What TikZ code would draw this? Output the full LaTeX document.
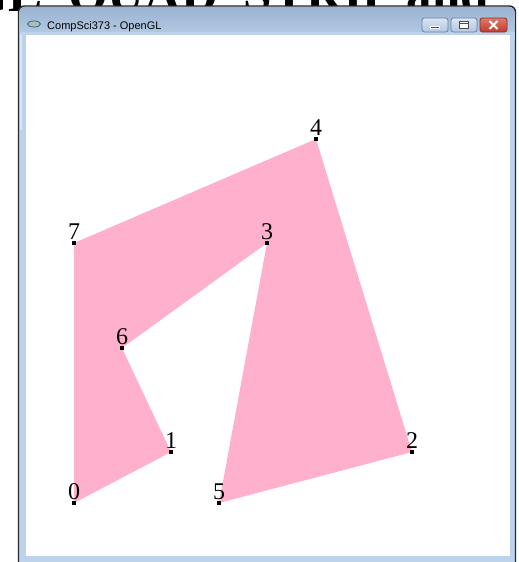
\documentclass[tikz,border=0pt]{standalone}
\usepackage{fontspec}
\usetikzlibrary{calc,shapes.geometric}
\newfontfamily\labelfont{Liberation Serif}
\newfontfamily\uifont{Liberation Sans}
\definecolor{pinkfill}{RGB}{255,176,204}
\definecolor{framebg}{RGB}{189,211,236}
\definecolor{frameedge}{RGB}{40,40,40}
\definecolor{titletop}{RGB}{155,179,209}
\definecolor{titlebot}{RGB}{185,207,233}
\definecolor{btntop}{RGB}{216,229,243}
\definecolor{btnbot}{RGB}{178,200,227}
\definecolor{btnedge}{RGB}{105,128,160}
\definecolor{closetop}{RGB}{226,120,105}
\definecolor{closebot}{RGB}{192,60,48}
\definecolor{closeedge}{RGB}{130,50,45}
\tikzset{
  vdot/.style={rectangle,fill=black,inner sep=0pt,minimum size=3.6pt},
  vlabel/.style={anchor=base west,inner sep=0pt,outer sep=0pt,font=\labelfont\fontsize{24}{24}\selectfont},
  winbtn/.style={rounded corners=2.5pt,draw=btnedge,line width=0.8pt,top color=btntop,bottom color=btnbot},
  closebtn/.style={rounded corners=2.5pt,draw=closeedge,line width=0.8pt,top color=closetop,bottom color=closebot},
  bigtext/.style={anchor=base west,inner sep=0pt,outer sep=0pt,font=\labelfont\bfseries\fontsize{51}{51}\selectfont},
}
\begin{document}
\begin{tikzpicture}[x=1pt,y=-1pt]
\useasboundingbox (0,0) rectangle (519,562);
\fill[white] (0,0) rectangle (519,562);
% slide title behind the window
\node[bigtext] (title) at (-31,11) {GL\_QUAD\_STRIP and};
% window frame
\begin{scope}
\clip (0,0) rectangle (519,562);
\fill[framebg,draw=frameedge,line width=1.4pt,rounded corners=6pt] (18.5,6) rectangle (515.5,575);
\shade[top color=titletop,bottom color=titlebot,rounded corners=5pt] (19.5,7) rectangle (514.5,40);
\fill[framebg] (19.5,32) rectangle (514.5,40);
\fill[white!40!framebg] (19.5,35) rectangle (21.5,130);
\end{scope}
% client area
\fill[white] (26,35) rectangle (510,556);
% title bar contents
\node[ellipse,inner sep=0pt,minimum width=13pt,minimum height=6pt,fill=gray!55,draw=teal!70!gray,line width=0.9pt] (icon) at (34,24) {};
\node[anchor=base west,inner sep=0pt,font=\uifont\fontsize{11}{11}\selectfont] (wtitle) at (47,29) {CompSci373 - OpenGL};
\draw[winbtn] (422,18) rectangle (448,32);
\draw[winbtn] (451,18) rectangle (477,32);
\draw[closebtn] (480,18) rectangle (507,32);
\fill[black!70,draw=white,line width=0.5pt] (430.5,26) rectangle (439.5,28.5);
\draw[black!70,line width=1pt,fill=white] (459.5,21.5) rectangle (468.5,28.5);
\draw[black!70,line width=0.8pt] (459.5,23) -- (468.5,23);
\draw[white,line width=1.8pt] (489.5,21) -- (497.5,29) (489.5,29) -- (497.5,21);
% vertices
\coordinate (v0) at (74,503);
\coordinate (v1) at (171,452);
\coordinate (v2) at (412,452);
\coordinate (v3) at (267,243);
\coordinate (v4) at (316,139);
\coordinate (v5) at (219,503);
\coordinate (v6) at (122,348);
\coordinate (v7) at (74,243);
% quad strip surface
\fill[pinkfill] (v0) -- (v1) -- (v6) -- (v3) -- (v5) -- (v2) -- (v4) -- (v7) -- cycle;
% vertex markers and labels
\foreach \i in {0,...,7}{
  \node[vdot] (d\i) at (v\i) {};
  \node[vlabel] (l\i) at ($(v\i)+(-6,-4)$) {\i};
}
\end{tikzpicture}
\end{document}
